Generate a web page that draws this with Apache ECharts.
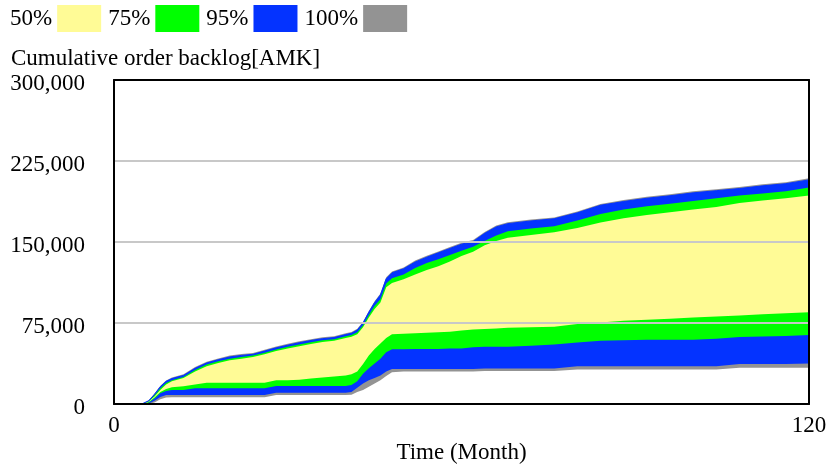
<!DOCTYPE html>
<html>
<head>
<meta charset="utf-8">
<script src="https://cdn.jsdelivr.net/npm/echarts@6/dist/echarts.min.js"></script>
<style>
html,body{margin:0;padding:0;background:#fff;}
#chart{width:828px;height:465px;}
</style>
</head>
<body>
<div id="chart"></div>
<script>
// Time (Month)
var times = [0,4,5,6,7,8,9,10,12,14,16,18,20,22,24,26,28,30,32,34,36,38,40,41,42,43,44,45,46,47,48,50,52,54,56,58,60,62,64,66,68,72,76,80,84,88,92,96,100,104,108,112,116,120];

// Values in thousands (AMK)
var maxTop = [0,0,0.6,3.5,9.8,16.8,21.8,24.6,27.6,34.2,39.2,42.2,44.8,46.2,47.2,50.2,53.2,55.7,58,60,61.7,62.7,65.5,66.7,69.7,76.2,86.2,95.2,102.2,117.3,122.8,126.5,132.8,137.2,141.3,145.3,149.3,151.8,159.3,165.3,168.3,170.8,172.8,178.3,185.3,188.8,191.8,194.2,196.9,198.9,200.9,203.4,205.4,209];
var p975 = [0,0,0.5,3,9,16,21,23.5,26.5,33,38,41,43.6,45,46,49,52,54.5,56.8,58.8,60.5,61.5,64.3,65.5,68.5,75,85,94,101,116,121.5,125.2,131.5,135.9,140,144,148,150.5,158,164,167,169.5,171.5,177,184,187.5,190.5,192.8,195.5,197.5,199.5,202,204,207.5];
var p875 = [0,0,0.4,2.6,8,14.5,19.5,22,25,31.5,36.5,39.5,42,43.5,44.8,47.5,50.5,53,55.2,57.2,59,60,62.7,63.8,66.5,73,82.5,91,97,111.5,116.5,120,126,130.5,134,138,142,145.5,151,156,160,162.5,164.5,170,176,180,183,185.5,188,190.5,193,195,197,200.5];
var p75 = [0,0,0.3,2.2,7,13,18,21,24,30,35,38,40.5,42,43.5,46,49,51.5,53.5,55.5,57.5,58.5,61,62.3,64.5,71,80,88,94,108,112,115.5,120,124,127.5,132,137,141,147,151,154,156.5,159,163,168,172,175,177.5,180,182.5,186,188.5,190.5,193];
var p25 = [0,0,0.2,1.8,6,11,14,15.5,16.5,18,19.7,19.7,19.7,19.7,19.7,19.7,22,22,22.5,23.5,24.5,25.5,26.5,27.5,30,37,45,51,56,61,64.5,65,65.5,66,66.5,67,68,69,69.5,70,70.5,71,71.5,74,75.5,77,78,79,80,81,82,83,84,85];
var p125 = [0,0,0,1.2,5,10,12,13,13,14.5,14.5,14.5,14.5,14.5,14.5,14.5,16.6,16.6,16.6,16.6,16.6,16.6,16.6,17.5,21,28,33,37.5,42,48,50.7,50.7,51,51,51,51.5,51.5,52.5,53,53,53,54,55,57,58.5,59,59.5,59.6,59.5,60.5,62,62.5,63,64];
var p25lo = [0,0,0,0.5,3,6.5,8.3,8.3,8.3,8.3,8.3,8.3,8.3,8.3,8.3,8.3,10.4,10.4,10.4,10.4,10.4,10.4,10.4,11,15,19,22,24,26.5,30,32.5,32.5,32.5,32.5,32.5,32.5,32.5,32.5,32.8,32.8,32.8,32.8,32.8,35,35,35,35,35,35,35,37,37,37,37.5];
var minBot = [0,0,0,0,1.5,4.5,6,6.2,6.2,6.2,6.2,6.2,6.2,6.2,6.2,6.2,8.3,8.3,8.3,8.3,8.3,8.3,8.3,8.5,11,13,16,19,22,26,29.5,30,30,30,30,30,30,30,30.5,30.5,30.5,30.5,30.5,32,32,32,32,32,32,32,33.5,33.5,33.5,33.5];

var yTicks = [0, 75000, 150000, 225000, 300000];
var legendNames = ['50%', '75%', '95%', '100%'];
var colors = {yellow:'#FFFB96', green:'#00FF00', blue:'#0433FF', gray:'#939393', white:'#FFFFFF'};

function pairs(arr){ return times.map(function(t,i){ return [t, arr[i]*1000]; }); }
function band(name, arr, color, lineW, z){
  return {
    name: name, type: 'line', data: pairs(arr), showSymbol: false, symbol: 'none',
    smooth: false, z: z,
    lineStyle: {width: lineW, color: color},
    itemStyle: {color: color},
    areaStyle: {color: color, opacity: 1, origin: 'start'},
    emphasis: {disabled: true},
    silent: true
  };
}

var font = 'Liberation Serif';
var FS = 23;
var chart = echarts.init(document.getElementById('chart'), null, {renderer:'canvas'});
chart.setOption({
  animation: false,
  backgroundColor: '#fff',
  textStyle: {fontFamily: font, color: '#000'},
  title: {
    text: 'Cumulative order backlog[AMK]', left: 6, top: 42,
    textStyle: {fontFamily: font, fontSize: FS, fontWeight: 'normal', color: '#000'}
  },
  legend: {
    left: 10, top: 5, padding: 0, align: 'right', itemWidth: 44, itemHeight: 27, itemGap: 7,
    selectedMode: false,
    textStyle: {fontFamily: font, fontSize: FS, color: '#000'},
    data: [
      {name: legendNames[0], icon: 'rect', itemStyle: {color: colors.yellow}},
      {name: legendNames[1], icon: 'rect', itemStyle: {color: colors.green}},
      {name: legendNames[2], icon: 'rect', itemStyle: {color: colors.blue}},
      {name: legendNames[3], icon: 'rect', itemStyle: {color: colors.gray}}
    ]
  },
  grid: {left: 114, right: 19, top: 80, bottom: 61, containLabel: false, outerBoundsMode: 'none'},
  xAxis: [{
    type: 'value', min: 0, max: 120, interval: 120, position: 'bottom', z: 6,
    name: 'Time (Month)', nameLocation: 'middle', nameGap: 37,
    nameTextStyle: {fontFamily: font, fontSize: FS, color: '#000'},
    axisLine: {show: true, onZero: false, lineStyle: {color: '#000', width: 2}},
    axisTick: {show: false},
    splitLine: {show: false},
    axisLabel: {fontFamily: font, fontSize: FS, color: '#000', margin: 10}
  }, {
    type: 'value', min: 0, max: 120, position: 'top', z: 6,
    axisLine: {show: true, onZero: false, lineStyle: {color: '#000', width: 2}},
    axisTick: {show: false}, axisLabel: {show: false}, splitLine: {show: false}
  }],
  yAxis: [{
    type: 'value', min: 0, max: 300000, interval: 75000, position: 'left', z: 5,
    axisLine: {show: true, onZero: false, lineStyle: {color: '#000', width: 2}},
    axisTick: {show: false},
    splitLine: {show: true, lineStyle: {color: '#C8C8C8', width: 2}},
    axisLabel: {
      fontFamily: font, fontSize: FS, color: '#000', margin: 29,
      formatter: function(v){ return yTicks.indexOf(v) >= 0 ? '{v|' + v.toLocaleString('en-US') + '}' : ''; },
      rich: {v: {fontFamily: font, fontSize: FS, color: '#000', padding: [8, 0, 0, 0]}}
    }
  }, {
    type: 'value', min: 0, max: 300000, interval: 75000, position: 'right', z: 6,
    axisLine: {show: true, onZero: false, lineStyle: {color: '#000', width: 2}},
    axisTick: {show: false}, axisLabel: {show: false}, splitLine: {show: false}
  }],
  series: [
    band('100%', maxTop, colors.gray, 0, 2),
    band('95%', p975, colors.blue, 1, 2),
    band('75%', p875, colors.green, 0, 2),
    band('50%', p75, colors.yellow, 0, 2),
    band('75%', p25, colors.green, 0, 2),
    band('95%', p125, colors.blue, 0, 2),
    band('100%', p25lo, colors.gray, 0, 2),
    band('min', minBot, colors.white, 0, 2)
  ]
});
</script>
</body>
</html>
